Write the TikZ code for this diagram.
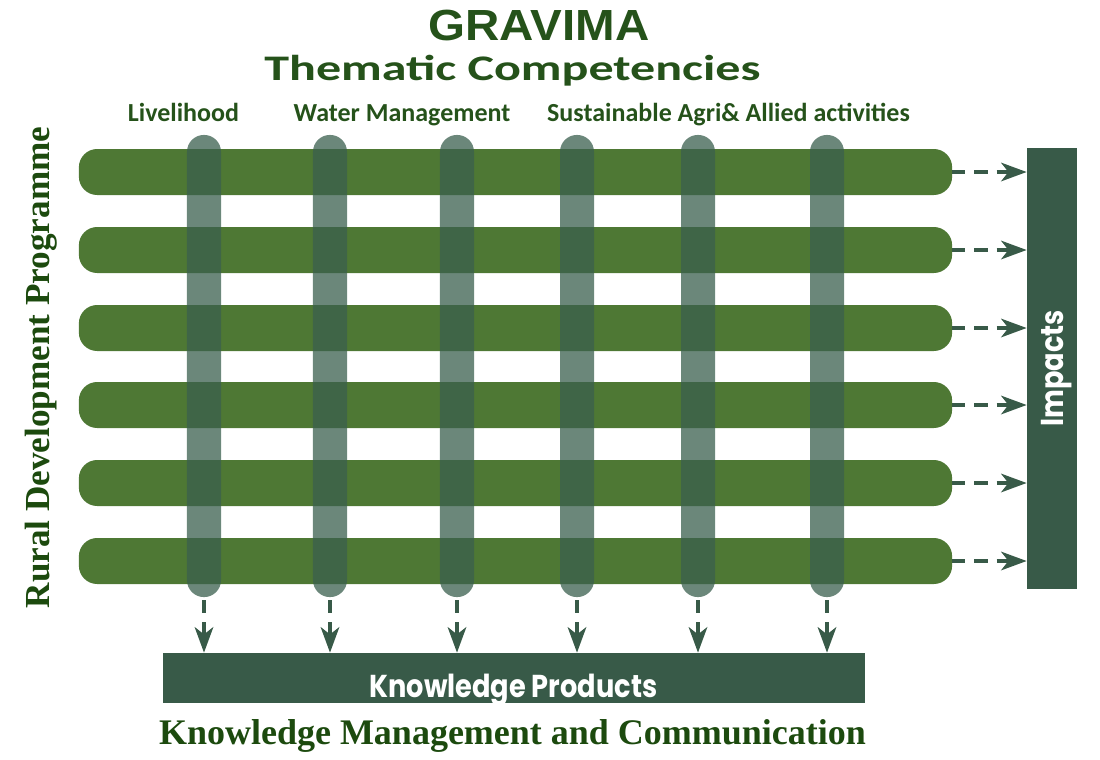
\documentclass[tikz,border=0pt]{standalone}
\usepackage{fontspec}
\usepackage{tikz}
\usepackage{xcolor}
\usetikzlibrary{arrows.meta, positioning}

\setmainfont{Liberation Serif}
\newfontfamily\titlefont[FakeStretch=1.09]{Liberation Sans}
\newfontfamily\themefont[FakeStretch=1.39]{Carlito}
\newfontfamily\labelfont{Carlito}
\newfontfamily\boxfont[FakeStretch=0.86]{Poppins}

\definecolor{bargreen}{HTML}{4E7834}
\definecolor{colgreen}{HTML}{3A5F4E}
\definecolor{boxgreen}{HTML}{385A48}
\definecolor{headgreen}{HTML}{25521A}
\definecolor{serifgreen}{HTML}{1C4A0E}

\tikzset{
  rowbar/.style={fill=bargreen, rounded corners=13pt, minimum width=21.825cm,
    minimum height=1.15cm, inner sep=0pt},
  colbar/.style={fill=colgreen, fill opacity=0.75, rounded corners=12pt,
    minimum width=0.85cm, minimum height=11.55cm, inner sep=0pt},
  outbox/.style={fill=boxgreen, inner sep=0pt},
  boxtext/.style={text=white, inner sep=0pt, anchor=base,
    font=\boxfont\bfseries\fontsize{22.5}{26}\selectfont},
  flow/.style={draw=boxgreen, line width=3.5pt, dash pattern=on 9.3pt off 6.4pt,
    -{Stealth[length=18pt, width=13pt, inset=5pt]}},
  complabel/.style={text=headgreen, anchor=base,
    font=\labelfont\bfseries\fontsize{18.5}{21}\selectfont},
  axislabel/.style={text=serifgreen, anchor=base,
    font=\bfseries\fontsize{25}{30}\selectfont},
}

\begin{document}
\begin{tikzpicture}[x=0.025cm, y=-0.025cm]
\useasboundingbox (0,0) rectangle (1100,759);

% Headings
\node[text=headgreen, anchor=base, font=\titlefont\bfseries\fontsize{31}{34}\selectfont]
  (gravima) at (539,40) {GRAVIMA};
\node[text=headgreen, anchor=base, font=\themefont\bfseries\fontsize{25.6}{30}\selectfont]
  (thematic) at (512.5,80) {Thematic Competencies};
\node[complabel] (livelihood) at (183.5,121) {Livelihood};
\node[complabel] (water) at (402,121) {Water Management};
\node[complabel] (agri) at (728.5,121) {Sustainable Agri\& Allied activities};

% Programme rows
\foreach \y [count=\i] in {172,250,328,405,483,561} {
  \node[rowbar] (row\i) at (515.5,\y) {};
}
% Competency columns, laid over the rows
\foreach \x [count=\j] in {204,330,457,577,698,827} {
  \node[colbar] (col\j) at (\x,366) {};
}

% Output boxes
\node[outbox, minimum width=17.55cm, minimum height=1.25cm] (products) at (514,678) {};
\node[boxtext] (productstext) at (513.5,697) {Knowledge Products};
\node[outbox, minimum width=1.25cm, minimum height=11.025cm] (impacts) at (1052,368.5) {};
\node[boxtext, rotate=90] (impactstext) at (1063,368.5) {Impacts};

% Flows to the outputs
\foreach \i in {1,...,6} {
  \draw[flow] (row\i.east) -- (impacts.west |- row\i.east);
}
\foreach \j in {1,...,6} {
  \draw[flow] ([yshift=-2pt]col\j.south) -- (col\j.south |- products.north);
}

% Axis labels
\node[axislabel, rotate=90] (rural) at (50,367.5) {Rural Development Programme};
\node[axislabel, font=\bfseries\fontsize{25.6}{30}\selectfont] (kmc) at (512.5,744)
  {Knowledge Management and Communication};
\end{tikzpicture}
\end{document}
